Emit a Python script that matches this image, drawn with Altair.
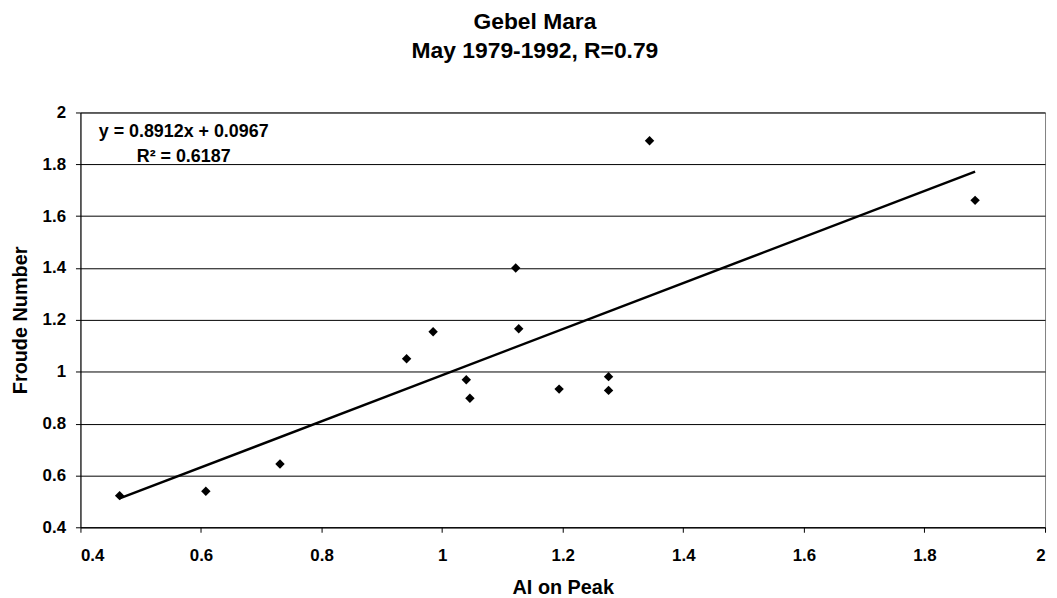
import altair as alt
import pandas as pd

# Data
ai_on_peak = [0.465, 0.608, 0.731, 0.941, 0.985, 1.040, 1.046, 1.122, 1.127, 1.194, 1.276, 1.276, 1.344, 1.884]
froude_number = [0.522, 0.539, 0.644, 1.050, 1.154, 0.969, 0.898, 1.400, 1.166, 0.933, 0.981, 0.928, 1.891, 1.661]
tick_values = [0.4, 0.6, 0.8, 1.0, 1.2, 1.4, 1.6, 1.8, 2.0]
title_lines = ["Gebel Mara", "May 1979-1992, R=0.79"]
equation_lines = ["y = 0.8912x + 0.0967", "R\u00b2 = 0.6187"]

FONT = "Liberation Sans"

df = pd.DataFrame({"ai": ai_on_peak, "fr": froude_number})
eq_df = pd.DataFrame({"t": ["\n".join(equation_lines)]})

x_scale = alt.Scale(domain=[0.4, 2.0], nice=False, zero=False)
y_scale = alt.Scale(domain=[0.4, 2.0], nice=False, zero=False)

x_enc = alt.X(
    "ai:Q",
    scale=x_scale,
    axis=alt.Axis(
        values=tick_values,
        format="~g",
        title="AI on Peak",
        grid=False,
        labelPadding=15,
        titlePadding=15,
    ),
)
y_enc = alt.Y(
    "fr:Q",
    scale=y_scale,
    axis=alt.Axis(
        values=tick_values,
        format="~g",
        title="Froude Number",
        grid=True,
        gridColor="#000000",
        gridWidth=1,
        labelPadding=10,
        titlePadding=12,
    ),
)

trend = (
    alt.Chart(df)
    .transform_regression("ai", "fr")
    .mark_line(color="black", strokeWidth=2.5)
    .encode(x=x_enc, y=y_enc)
)

points = (
    alt.Chart(df)
    .mark_point(shape="diamond", filled=True, color="black", size=90, opacity=1)
    .encode(x=x_enc, y=y_enc)
)

equation = (
    alt.Chart(eq_df)
    .mark_text(
        align="center",
        baseline="top",
        lineBreak="\n",
        lineHeight=25,
        font=FONT,
        fontSize=18,
        fontWeight="bold",
        color="black",
    )
    .encode(text="t:N", x=alt.value(104), y=alt.value(11))
)

chart = (
    alt.layer(trend, points, equation)
    .properties(
        width=972,
        height=418,
        autosize=alt.AutoSizeParams(type="none"),
        padding={"left": 73, "top": 103, "right": 4, "bottom": 72},
        title=alt.TitleParams(
            title_lines,
            font=FONT,
            fontSize=23,
            fontWeight="bold",
            color="black",
            anchor="middle",
            frame="group",
            dx=-28,
            offset=41,
            lineHeight=29,
        ),
    )
    .configure_view(stroke="#808080", strokeWidth=1)
    .configure_axis(
        domainColor="black",
        domainWidth=1,
        tickColor="black",
        tickSize=5,
        labelFont=FONT,
        labelFontSize=17,
        labelFontWeight="bold",
        labelColor="black",
        titleFont=FONT,
        titleFontSize=20,
        titleFontWeight="bold",
        titleColor="black",
    )
)

chart.save("out.html", embed_options={"renderer": "svg", "actions": False})
